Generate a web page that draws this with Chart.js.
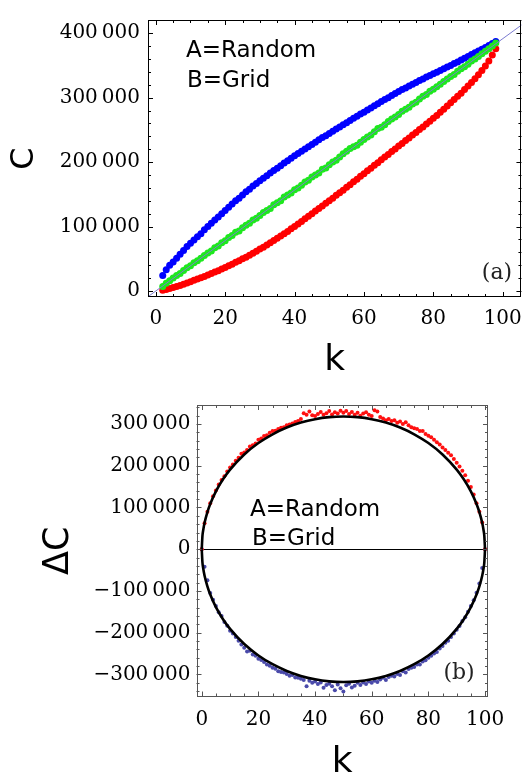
<!DOCTYPE html>
<html>
<head>
<meta charset="utf-8">
<script src="https://cdn.jsdelivr.net/npm/chart.js@4.4.1/dist/chart.umd.min.js"></script>
<style>
  body { margin: 0; background: #fff; }
  #wrap { position: relative; width: 532px; height: 782px; overflow: hidden; }
  canvas { position: absolute; left: 0; }
  #chartA { top: 0; }
  #chartB { top: 380px; }
</style>
</head>
<body>
<div id="wrap">
  <canvas id="chartA" width="532" height="384"></canvas>
  <canvas id="chartB" width="532" height="404"></canvas>
</div>
<script>
// ---- panel (a): C versus k ----
const kA = [2, 3, 4, 5, 6, 7, 8, 9, 10, 11, 12, 13, 14, 15, 16, 17, 18, 19, 20,
  21, 22, 23, 24, 25, 26, 27, 28, 29, 30, 31, 32, 33, 34, 35, 36, 37, 38, 39, 40,
  41, 42, 43, 44, 45, 46, 47, 48, 49, 50, 51, 52, 53, 54, 55, 56, 57, 58, 59, 60,
  61, 62, 63, 64, 65, 66, 67, 68, 69, 70, 71, 72, 73, 74, 75, 76, 77, 78, 79, 80,
  81, 82, 83, 84, 85, 86, 87, 88, 89, 90, 91, 92, 93, 94, 95, 96, 97, 98];
const blueA = [24000, 33000, 40000, 45000, 51000, 57000, 63000, 69000, 74000,
  79000, 84000, 89000, 95000, 100000, 105000, 110000, 115000, 120000, 125000,
  130000, 135000, 140000, 144000, 149000, 154000, 158000, 163000, 167000, 171000,
  175000, 179000, 183000, 187000, 190500, 194500, 198500, 202000, 206000, 210000,
  213500, 217000, 220500, 224000, 227500, 231000, 234500, 238000, 241000, 244500,
  248000, 251500, 254500, 258000, 261000, 264500, 268000, 271000, 274500, 277500,
  281000, 284000, 287500, 290500, 294000, 297000, 300000, 303500, 306500, 309500,
  312500, 315000, 318000, 321000, 323500, 326500, 329000, 332000, 334500, 337000,
  339500, 342000, 345000, 347500, 350000, 353000, 355500, 358500, 361000, 364000,
  367000, 369500, 372500, 375000, 378000, 381000, 384000, 387000];
const greenA = [7000, 12000, 16000, 20000, 24000, 27000, 32000, 36000, 39000,
  44000, 47000, 51000, 55000, 59000, 62000, 67000, 70000, 75000, 78000,
  83000, 86000, 91000, 93000, 98000, 102000, 105000, 110000, 113000, 117000,
  122000, 125000, 128000, 134000, 137000, 140000, 146000, 149000, 152000, 157000,
  160000, 164000, 169000, 172000, 177000, 180000, 183000, 189000, 191000, 196000,
  200000, 203000, 208000, 213000, 217000, 221000, 224000, 226000, 231000, 235000,
  239000, 242000, 247000, 252000, 254000, 258000, 263000, 267000, 270000, 274000,
  279000, 282000, 285000, 290000, 293000, 298000, 302000, 305000, 310000, 313000,
  317000, 321000, 325000, 329000, 333000, 336000, 341000, 345000, 348000, 352000,
  357000, 360000, 364000, 368000, 372000, 376000, 380000, 385000];
const redA = [1000, 2500, 4000, 5500, 7000, 8500, 10500, 12500, 14500,
  16500, 18500, 20500, 22500, 25000, 27000, 29500, 31500, 34000, 36500,
  39000, 41500, 44500, 47000, 50000, 52500, 55500, 58500, 61500, 65000,
  68000, 71500, 75000, 78500, 82000, 85500, 89000, 92500, 96500, 100000,
  104000, 108000, 112000, 116000, 120000, 124000, 128000, 132000, 136000, 140000,
  144000, 148500, 152500, 156500, 161000, 165000, 169500, 173500, 178000, 182000,
  186500, 190500, 195000, 199000, 203500, 208000, 212000, 216500, 220500, 225000,
  229000, 233500, 237500, 242000, 246000, 250500, 254500, 259000, 263500, 268000,
  272500, 277500, 282000, 287000, 292000, 297000, 302000, 307000, 312500, 318000,
  323500, 329500, 335500, 342000, 349000, 357000, 366000, 376000];
// thin reference line
const diagK = [-2, 108];
const diagC = [-7800, 422800];

// ---- panel (b): ΔC versus k ----
const kB = [0, 1, 2, 3, 4, 5, 6, 7, 8, 9, 10, 11, 12, 13, 14, 15, 16, 17, 18, 19, 20,
  21, 22, 23, 24, 25, 26, 27, 28, 29, 30, 31, 32, 33, 34, 35, 36, 37, 38, 39, 40,
  41, 42, 43, 44, 45, 46, 47, 48, 49, 50, 51, 52, 53, 54, 55, 56, 57, 58, 59, 60,
  61, 62, 63, 64, 65, 66, 67, 68, 69, 70, 71, 72, 73, 74, 75, 76, 77, 78, 79, 80,
  81, 82, 83, 84, 85, 86, 87, 88, 89, 90, 91, 92, 93, 94, 95, 96, 97, 98, 99, 100];
const redB = [0, 62000, 90000, 110000, 127000, 141000, 155000, 166000, 175000, 186000, 196000,
  203000, 212000, 219000, 229000, 232000, 238000, 246000, 249000, 253000, 262000,
  265000, 271000, 273000, 279000, 283000, 284000, 288000, 291000, 292000, 297000,
  299000, 301000, 305000, 307000, 312000, 326000, 322000, 330000, 321000, 319000,
  324000, 329000, 322000, 326000, 331000, 323000, 328000, 325000, 332000, 327000,
  331000, 324000, 329000, 322000, 327000, 320000, 325000, 328000, 322000, 319000,
  333000, 330000, 317000, 313000, 309000, 312000, 307000, 309000, 303000, 306000,
  300000, 304000, 297000, 292000, 290000, 288000, 283000, 283000, 276000, 272000,
  268000, 262000, 256000, 251000, 244000, 238000, 231000, 225000, 216000, 207000,
  198000, 188000, 177000, 164000, 149000, 131000, 110000, 90000, 64000, 0];
const blueB = [0, -42000, -74000, -105000, -121000, -136000, -151000, -160000, -174000, -183000, -195000,
  -202000, -210000, -219000, -228000, -236000, -245000, -243000, -252000, -255000, -262000,
  -265000, -270000, -276000, -279000, -284000, -286000, -292000, -294000, -295000, -299000,
  -303000, -301000, -307000, -308000, -310000, -313000, -328000, -315000, -320000, -317000,
  -323000, -319000, -332000, -325000, -322000, -328000, -338000, -324000, -333000, -341000,
  -326000, -322000, -331000, -327000, -320000, -325000, -319000, -323000, -317000, -320000,
  -315000, -318000, -312000, -308000, -313000, -306000, -303000, -305000, -299000, -301000,
  -292000, -295000, -287000, -284000, -282000, -276000, -276000, -269000, -266000, -260000,
  -255000, -250000, -246000, -238000, -232000, -224000, -219000, -210000, -202000, -193000,
  -184000, -172000, -163000, -150000, -136000, -122000, -104000, -82000, -45000, 0];
const curveK = [0, 0.25, 0.5, 1, 2, 3, 5, 7.5, 10, 15, 20, 25, 30, 35, 40, 45, 50,
  55, 60, 65, 70, 75, 80, 85, 90, 92.5, 95, 97, 98, 99, 99.5, 99.75, 100];
const curveUp = [0, 31800, 44900, 63300, 89000, 108500, 138600, 167500, 190800, 227100,
  254400, 275400, 291500, 303400, 311600, 316400, 318000, 316400, 311600, 303400, 291500,
  275400, 254400, 227100, 190800, 167500, 138600, 108500, 89000, 63300, 44900, 31800, 0];
const curveDown = [0, -31800, -44900, -63300, -89000, -108500, -138600, -167500, -190800, -227100,
  -254400, -275400, -291500, -303400, -311600, -316400, -318000, -316400, -311600, -303400, -291500,
  -275400, -254400, -227100, -190800, -167500, -138600, -108500, -89000, -63300, -44900, -31800, 0];

// tick labels
const ticksK = [0, 20, 40, 60, 80, 100];
const ticksCA = [0, 100000, 200000, 300000, 400000];
const ticksCB = [-300000, -200000, -100000, 0, 100000, 200000, 300000];

const pts = (xs, ys) => xs.map((x, i) => ({ x: x, y: ys[i] }));

// number like 300 000 with a thin space, minus sign for negatives
const fmt = v => (v < 0 ? '\u2212' : '') + String(Math.abs(v)).replace(/\B(?=(\d{3})+(?!\d))/g, '\u2009');

// Mathematica style frame with inward ticks on all four sides
const framePlugin = {
  id: 'frame',
  afterDatasetsDraw(chart, args, o) {
    const { ctx, chartArea: a, scales: { x, y } } = chart;
    ctx.save();
    ctx.strokeStyle = o.color;
    ctx.lineWidth = 1;
    ctx.strokeRect(Math.round(a.left) + 0.5, Math.round(a.top) + 0.5,
      Math.round(a.right) - Math.round(a.left) - 1, Math.round(a.bottom) - Math.round(a.top) - 1);
    ctx.beginPath();
    for (let v = Math.ceil(x.min / o.xMinor) * o.xMinor; v <= x.max; v += o.xMinor) {
      const p = Math.round(x.getPixelForValue(v)) + 0.5;
      const len = Math.abs(v % o.xMajor) < 1e-6 ? o.majorLen : o.minorLen;
      ctx.moveTo(p, a.bottom); ctx.lineTo(p, a.bottom - len);
      ctx.moveTo(p, a.top); ctx.lineTo(p, a.top + len);
    }
    for (let v = Math.ceil(y.min / o.yMinor) * o.yMinor; v <= y.max; v += o.yMinor) {
      const p = Math.round(y.getPixelForValue(v)) + 0.5;
      const len = Math.abs(v % o.yMajor) < 1e-6 ? o.majorLen : o.minorLen;
      ctx.moveTo(a.left, p); ctx.lineTo(a.left + len, p);
      ctx.moveTo(a.right, p); ctx.lineTo(a.right - len, p);
    }
    ctx.stroke();
    ctx.restore();
  }
};

const notesPlugin = {
  id: 'notes',
  afterDraw(chart, args, o) {
    const ctx = chart.ctx;
    ctx.save();
    for (let i = 0; i < o.items.length; i++) {
      const n = o.items[i];
      ctx.font = n.font;
      ctx.fillStyle = n.color;
      ctx.textAlign = n.align;
      ctx.textBaseline = 'alphabetic';
      ctx.fillText(n.text, n.x, n.y);
    }
    ctx.restore();
  }
};

const tickFont = { family: 'DejaVu Serif', size: 20 };
const titleFont = { family: 'DejaVu Sans', size: 36 };

function axisX(min, max, h, pad, titlePad) {
  return {
    type: 'linear', min: min, max: max,
    afterBuildTicks: s => { s.ticks = ticksK.map(v => ({ value: v })); },
    afterFit: s => { s.height = h; },
    ticks: { font: tickFont, color: '#000', padding: pad, autoSkip: false, maxRotation: 0 },
    grid: { display: false, drawTicks: false },
    border: { display: false },
    title: { display: true, text: 'k', color: '#000', font: titleFont, padding: { top: 0, bottom: titlePad } }
  };
}

// panel (a)
new Chart(document.getElementById('chartA'), {
  type: 'scatter',
  data: {
    datasets: [
      { data: pts(diagK, diagC), showLine: true, pointRadius: 0, borderColor: '#7b7bd0', borderWidth: 1, order: 0 },
      { data: pts(kA, greenA), pointRadius: 3.5, backgroundColor: '#1ee81e', borderWidth: 0, order: 1 },
      { data: pts(kA, blueA), pointRadius: 3.5, backgroundColor: '#0000ff', borderWidth: 0, order: 2 },
      { data: pts(kA, redA), pointRadius: 3.5, backgroundColor: '#ff0000', borderWidth: 0, order: 3 }
    ]
  },
  options: {
    responsive: false,
    animation: false,
    layout: { padding: { top: 6, right: 2, left: 0, bottom: 0 } },
    scales: {
      x: axisX(-2.25, 105.4, 87, 10, 2),
      y: {
        type: 'linear', min: -9300, max: 420500,
        afterBuildTicks: s => { s.ticks = ticksCA.map(v => ({ value: v })); },
        afterFit: s => { s.width = 148; },
        ticks: { font: tickFont, color: '#000', padding: 8, callback: v => fmt(v) },
        grid: { display: false, drawTicks: false },
        border: { display: false },
        title: { display: true, text: 'C', color: '#000', font: { family: 'DejaVu Sans', size: 32 }, padding: { top: 5 } }
      }
    },
    plugins: {
      legend: { display: false },
      tooltip: { enabled: false },
      frame: { color: '#000', xMajor: 20, xMinor: 5, yMajor: 100000, yMinor: 20000, majorLen: 5, minorLen: 3 },
      notes: {
        items: [
          { text: 'A=Random', x: 186, y: 57, font: '23px "DejaVu Sans"', color: '#000', align: 'left' },
          { text: 'B=Grid', x: 187, y: 87, font: '23px "DejaVu Sans"', color: '#000', align: 'left' },
          { text: '(a)', x: 497, y: 279, font: '22px "DejaVu Serif"', color: '#222', align: 'center' }
        ]
      }
    }
  },
  plugins: [framePlugin, notesPlugin]
});

// panel (b)
new Chart(document.getElementById('chartB'), {
  type: 'scatter',
  data: {
    datasets: [
      { data: pts(curveK, curveUp), showLine: true, pointRadius: 0, borderColor: '#000', borderWidth: 2.6, cubicInterpolationMode: 'monotone', order: 0 },
      { data: pts(curveK, curveDown), showLine: true, pointRadius: 0, borderColor: '#000', borderWidth: 2.6, cubicInterpolationMode: 'monotone', order: 0 },
      { data: pts(kB, redB), pointRadius: 2, backgroundColor: '#ff1010', borderWidth: 0, order: 1 },
      { data: pts(kB, blueB), pointRadius: 2, backgroundColor: '#4a4aaa', borderWidth: 0, order: 1 }
    ]
  },
  options: {
    responsive: false,
    animation: false,
    layout: { padding: { top: 25, right: 44, left: 0, bottom: 0 } },
    scales: {
      x: axisX(-1.85, 101.05, 87.5, 11, 0),
      y: {
        type: 'linear', min: -352700, max: 345500,
        afterBuildTicks: s => { s.ticks = ticksCB.map(v => ({ value: v })); },
        afterFit: s => { s.width = 196.5; },
        ticks: { font: tickFont, color: '#000', padding: 6, callback: v => fmt(v) },
        grid: { display: true, drawTicks: false, lineWidth: 1, color: c => (c.tick && c.tick.value === 0 ? '#000' : 'rgba(0,0,0,0)') },
        border: { display: false },
        title: { display: true, text: '\u0394C', color: '#000', font: { family: 'DejaVu Sans', size: 35 }, padding: { top: 38 } }
      }
    },
    plugins: {
      legend: { display: false },
      tooltip: { enabled: false },
      frame: { color: '#555', xMajor: 20, xMinor: 5, yMajor: 100000, yMinor: 20000, majorLen: 5, minorLen: 3 },
      notes: {
        items: [
          { text: 'A=Random', x: 250, y: 136, font: '23px "DejaVu Sans"', color: '#000', align: 'left' },
          { text: 'B=Grid', x: 252, y: 165, font: '23px "DejaVu Sans"', color: '#000', align: 'left' },
          { text: '(b)', x: 459, y: 299, font: '22px "DejaVu Serif"', color: '#222', align: 'center' }
        ]
      }
    }
  },
  plugins: [framePlugin, notesPlugin]
});
</script>
</body>
</html>
